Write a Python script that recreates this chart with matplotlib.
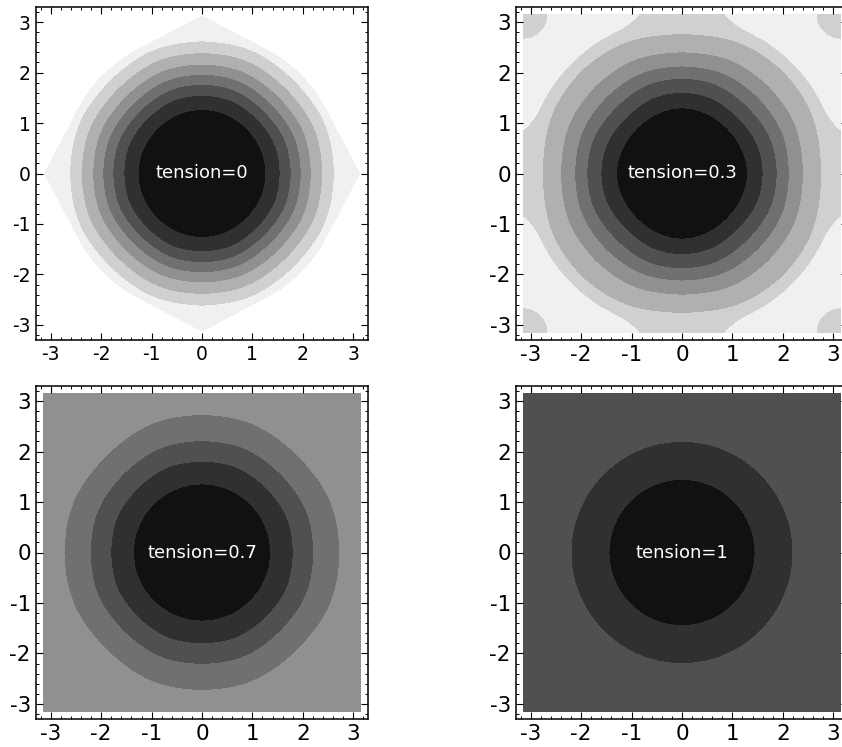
import numpy as np
import matplotlib
matplotlib.use("Agg")
import matplotlib.pyplot as plt
from matplotlib.ticker import MultipleLocator

plt.rcParams['font.family'] = 'DejaVu Sans'
plt.rcParams['axes.unicode_minus'] = False

# ---- data ----
tensions = [0, 0.3, 0.7, 1]
grays = ['#111111', '#303030', '#505050', '#707070',
         '#909090', '#b0b0b0', '#d0d0d0', '#f0f0f0']
levels = np.arange(0, 9)

# radius of each contour boundary, along the axes and along the diagonals
r_axis_t0 = [1.27, 1.56, 1.78, 1.98, 2.18, 2.41, 2.64, 3.12]
r_diag_t0 = [1.26, 1.55, 1.76, 1.96, 2.17, 2.39, 2.62, 2.76]
r_axis_t03 = [1.30, 1.62, 1.90, 2.14, 2.42, 2.78]
r_diag_t03 = [1.27, 1.58, 1.87, 2.15, 2.46, 2.88]
r_axis_t07 = [1.36, 1.82, 2.23, 2.75]
r_diag_t07 = [1.36, 1.82, 2.22, 2.72]
r_axis_t1 = [1.45, 2.20]
r_diag_t1 = [1.45, 2.20]
z_top = [9.0, 7.8, 4.9, 2.9]          # value reached far out
lobe_r03 = 3.10                        # light lobe on the diagonals (tension=0.3)
corner_r03 = 0.48                      # darker pocket in the corners (tension=0.3)
octagon_p = [9, 9, 9, None]            # how octagonal the rings look

radii = [(r_axis_t0, r_diag_t0), (r_axis_t03, r_diag_t03),
         (r_axis_t07, r_diag_t07), (r_axis_t1, r_diag_t1)]

# grid
x = np.linspace(-np.pi, np.pi, 601)
X, Y = np.meshgrid(x, x)
R = np.hypot(X, Y)
phi = np.arctan2(np.abs(Y), np.abs(X))
phi = np.minimum(phi, np.pi / 2 - phi)   # fold to 0..45 deg from nearest axis


def boundary(ra, rd, p):
    if ra > rd + 0.1:   # pointed at the axes
        pt = np.arccos(rd / ra)
        return rd / np.cos(np.clip(pt - phi, 0, None))
    if p is None:
        return ra + (rd - ra) * np.sin(2 * phi) ** 2
    # rounded octagon, faces at ra (axes) and rd (diagonals)
    s = (np.cos(phi) / ra) ** p + (np.cos(np.pi / 4 - phi) / rd) ** p
    return s ** (-1.0 / p)


def field(i):
    ra, rd = radii[i]
    bnds = [boundary(a, d, octagon_p[i] if k > 0 else None)
            for k, (a, d) in enumerate(zip(ra, rd))]
    if i == 1:
        deg = np.degrees(phi)
        bnds.append(lobe_r03 + 0.17 * (np.clip(25 - deg, 0, None) / 10) ** 2)
    n = len(bnds)
    bnds.append(bnds[-1] + 2.0)
    vals = list(range(n + 1)) + [z_top[i]]
    Z = np.full(R.shape, z_top[i])
    lo = np.zeros_like(R)
    for k, hi in enumerate(bnds):
        m = (R >= lo) & (R < hi)
        Z[m] = vals[k] + (vals[k + 1] - vals[k]) * (R[m] - lo[m]) / (hi[m] - lo[m])
        lo = hi
    if i == 1:
        dc = np.hypot(np.pi - np.abs(X), np.pi - np.abs(Y))
        Z = np.minimum(Z, 6.5 + 0.5 * dc / corner_r03)
    return Z


W, H = 842, 747
fig = plt.figure(figsize=(W / 100, H / 100), dpi=100)
lefts = [35.7, 515.7]
tops = [7, 386]
aw, ah = 332.6, 333
tick_size = [13.5, 15.5, 15.5, 15.5]

for i, t in enumerate(tensions):
    l = lefts[i % 2]
    tp = tops[i // 2]
    ax = fig.add_axes([l / W, (H - tp - ah) / H, aw / W, ah / H])
    ax.contourf(X, Y, field(i), levels=levels, colors=grays)
    ax.text(0, 0, "tension=%g" % t, color='white', fontsize=13,
            ha='center', va='center')
    lim = 1.05 * np.pi
    ax.set_xlim(-lim, lim)
    ax.set_ylim(-lim, lim)
    ax.xaxis.set_major_locator(MultipleLocator(1))
    ax.yaxis.set_major_locator(MultipleLocator(1))
    ax.xaxis.set_minor_locator(MultipleLocator(0.2))
    ax.yaxis.set_minor_locator(MultipleLocator(0.2))
    ax.tick_params(which='both', direction='in', top=True, right=True,
                   labelsize=tick_size[i], pad=3.5)
    ax.tick_params(which='major', length=4.8, width=0.8)
    ax.tick_params(which='minor', length=2.4, width=0.7)
    for s in ax.spines.values():
        s.set_linewidth(1.1)

fig.savefig("out.png", dpi=100)
